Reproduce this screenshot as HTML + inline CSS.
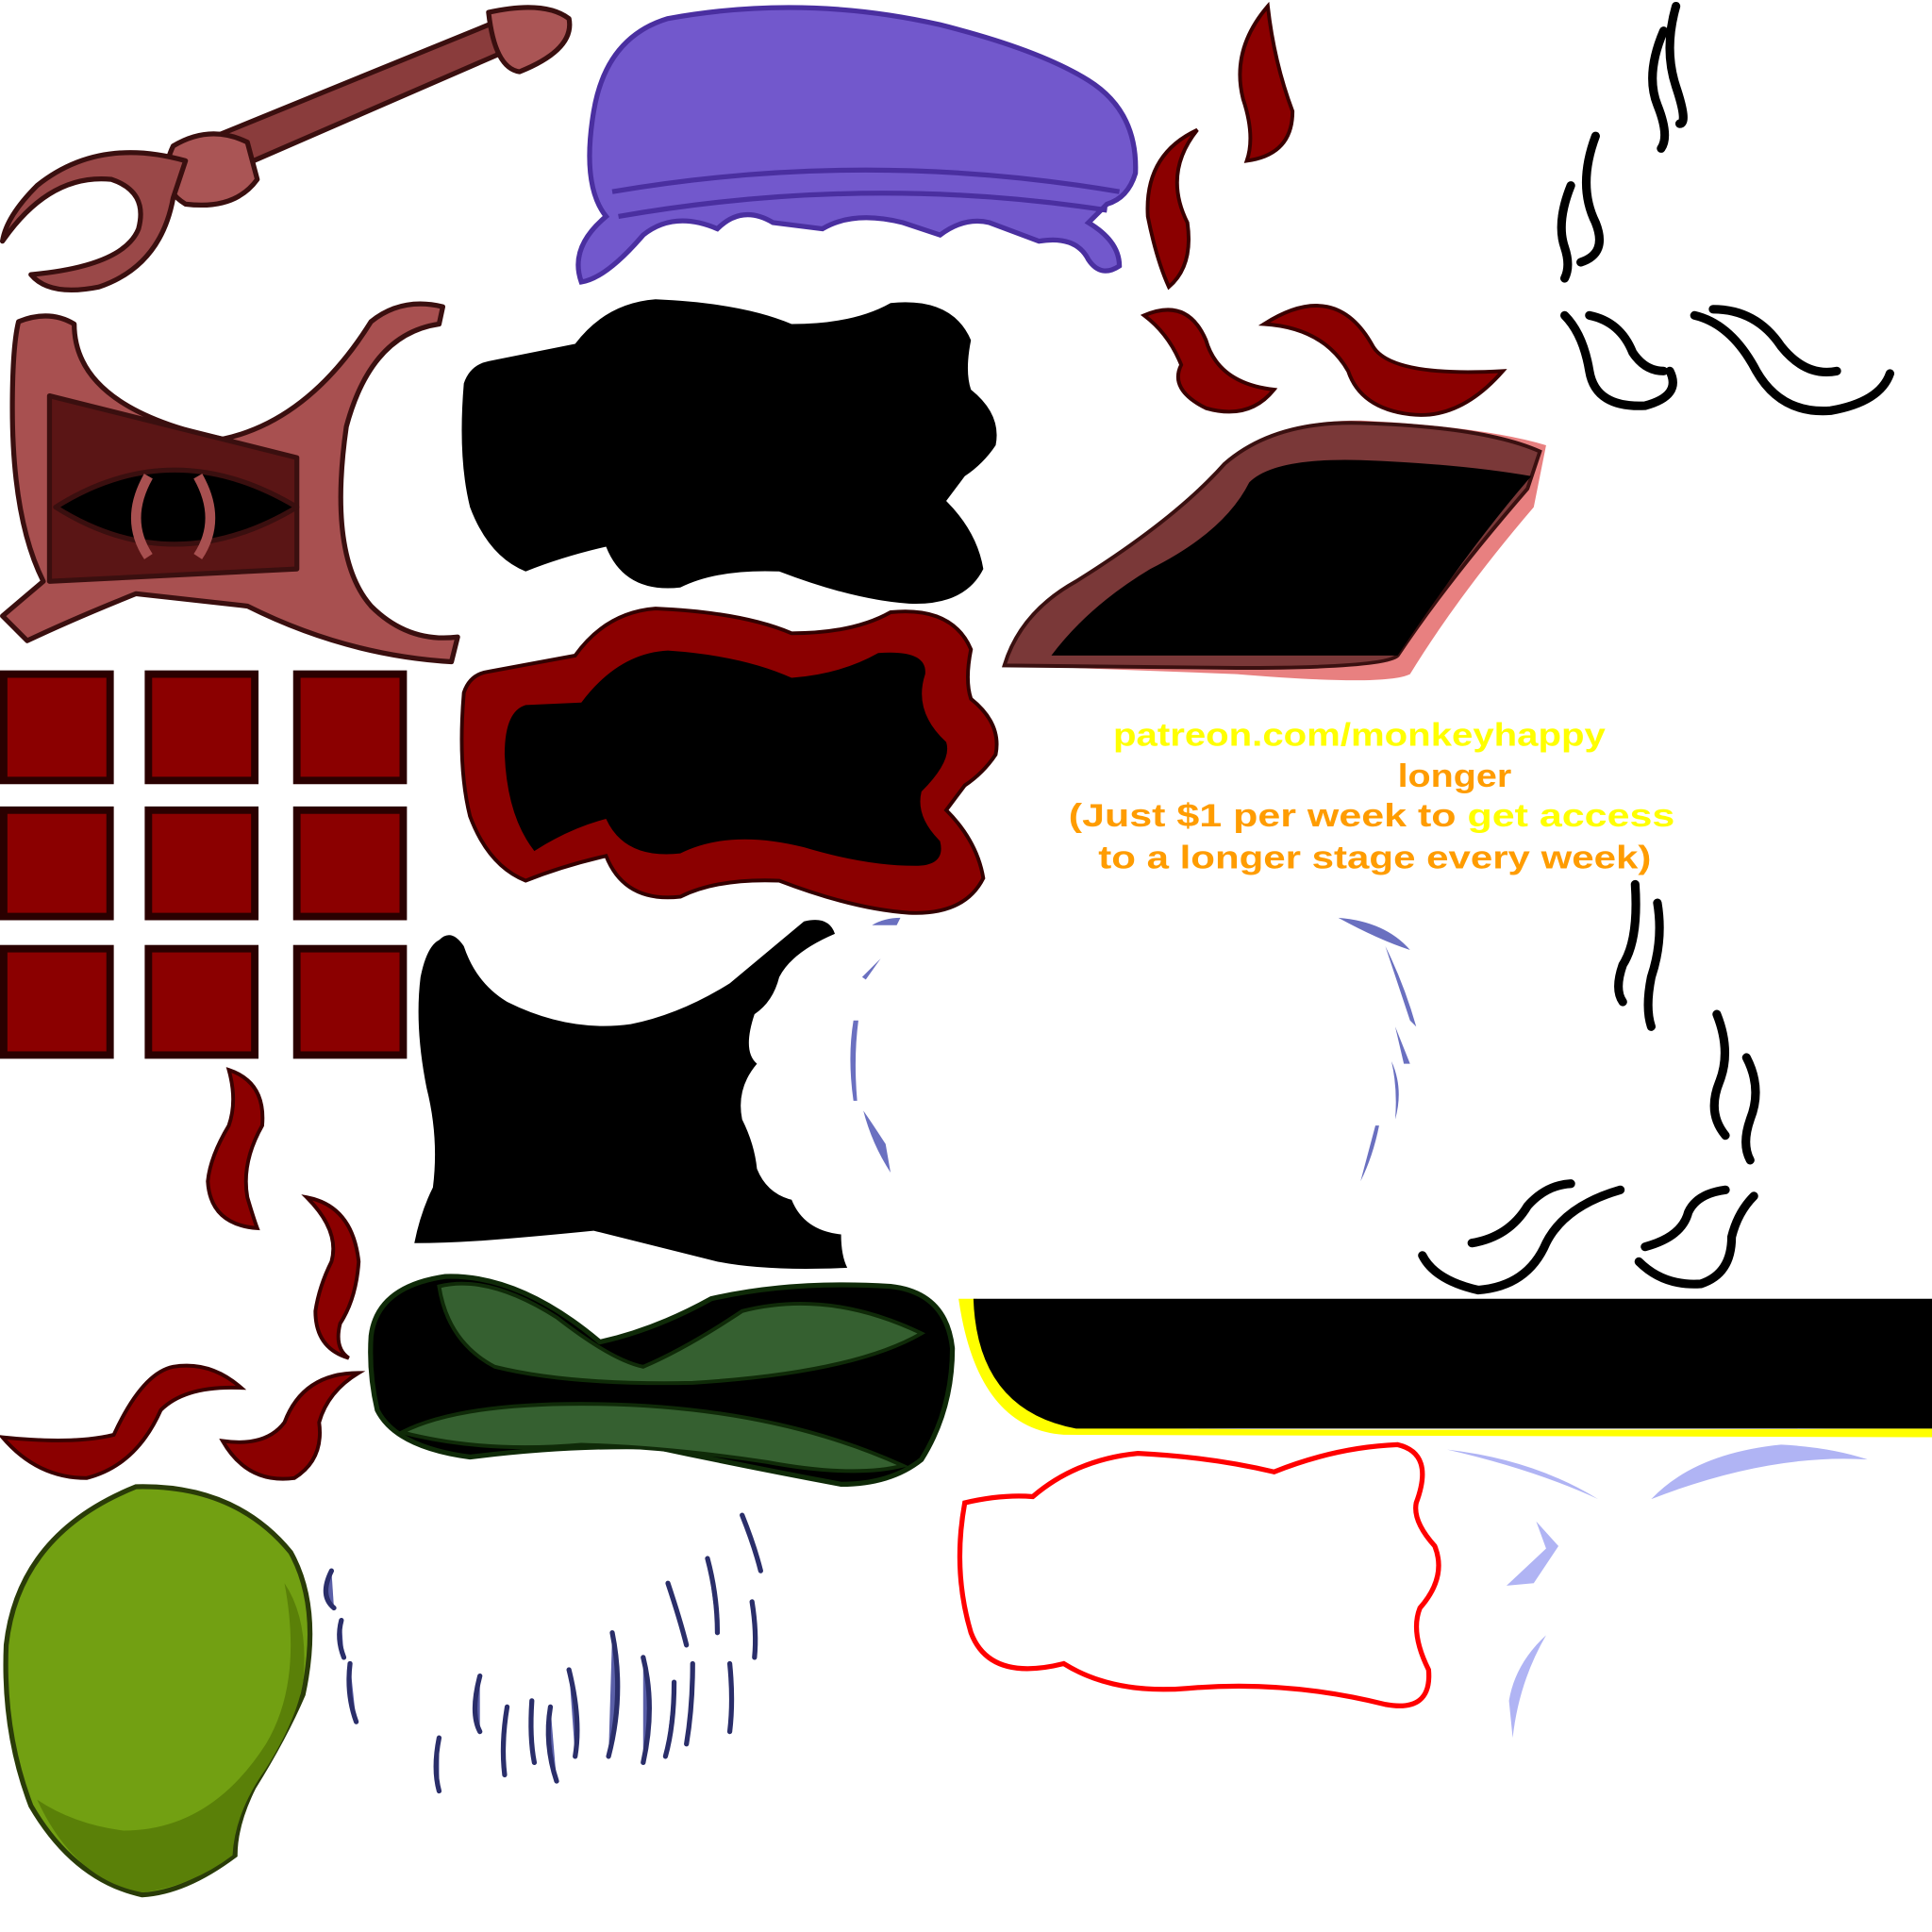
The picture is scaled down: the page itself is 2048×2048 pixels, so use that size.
<!DOCTYPE html>
<html><head><meta charset="utf-8"><style>html,body{margin:0;padding:0;background:#fff;overflow:hidden}svg{display:block}</style></head><body>
<svg width="2048" height="2048" viewBox="0 0 1562 1562" xmlns="http://www.w3.org/2000/svg">
<!-- wrench/tool top-left -->
<g stroke="#3a0f0f" stroke-width="4" stroke-linejoin="round">
<path d="M150 120 L400 18 L412 40 L205 130 Z" fill="#8a3c3c"/>
<path d="M395 10 Q440 0 460 15 Q465 40 420 58 Q400 55 395 10Z" fill="#a55"/>
<path d="M140 118 Q170 100 200 115 L208 145 Q190 170 150 165 Q125 150 140 118Z" fill="#a55"/>
<path d="M150 130 Q80 110 30 150 Q5 175 2 195 Q40 140 90 145 Q120 155 112 185 Q100 215 25 222 Q40 240 80 232 Q130 215 140 160Z" fill="#9a4848"/>
</g>
<!-- purple hat -->
<path d="M480 90 Q490 30 540 15 Q650 -5 760 20 Q840 40 880 65 Q920 90 918 140 Q912 160 895 165 L880 180 Q905 195 905 215 Q890 225 880 210 Q870 190 840 195 L800 180 Q780 175 760 190 L730 180 Q690 170 665 185 L625 180 Q600 165 580 185 Q545 170 520 190 Q490 225 470 228 Q460 200 490 175 Q470 150 480 90Z" fill="#7258cc" stroke="#4a2fa0" stroke-width="4"/>
<path d="M495 155 Q700 120 905 155 M500 175 Q700 140 895 170" fill="none" stroke="#4a2fa0" stroke-width="4"/>
<!-- red flames top -->
<g fill="#8b0000" stroke="#3a0000" stroke-width="3">
<path d="M1025 5 Q995 40 1005 80 Q1015 110 1008 130 Q1045 125 1045 90 Q1030 50 1025 5Z"/>
<path d="M968 105 Q925 125 928 175 Q935 210 945 232 Q965 215 960 180 Q940 140 968 105Z"/>
<path d="M925 255 Q960 240 975 275 Q985 310 1030 315 Q1010 340 975 330 Q945 315 955 295 Q945 270 925 255Z"/>
<path d="M1022 262 Q1080 225 1110 280 Q1125 305 1215 300 Q1180 340 1140 335 Q1100 330 1090 300 Q1070 265 1022 262Z"/>
</g>
<!-- black squiggles top right -->
<g fill="none" stroke="#000" stroke-width="7" stroke-linecap="round">
<path d="M1355 5 Q1345 40 1355 70 Q1365 100 1358 100 M1345 25 Q1330 60 1340 85 Q1350 110 1343 120"/>
<path d="M1290 110 Q1275 150 1290 180 Q1300 205 1278 212 M1270 150 Q1258 180 1265 200 Q1270 215 1265 225"/>
<path d="M1265 255 Q1280 270 1285 300 Q1290 330 1330 328 Q1360 320 1350 300 M1285 255 Q1310 260 1320 285 Q1330 300 1345 300"/>
<path d="M1370 255 Q1400 262 1420 300 Q1440 335 1480 332 Q1520 325 1528 302 M1385 250 Q1420 250 1440 280 Q1460 305 1485 300"/>
</g>
<!-- claw frame -->
<g stroke="#3a0f0f" stroke-width="4" stroke-linejoin="round">
<path d="M15 260 Q40 250 60 262 Q60 330 180 355 Q250 340 300 260 Q325 240 358 248 L355 262 Q300 270 280 345 Q265 450 300 490 Q330 520 370 515 L365 535 Q280 530 200 490 L110 480 Q60 500 22 518 L2 498 L35 470 Q10 420 10 330 Q10 280 15 260Z" fill="#a85050"/>
<path d="M40 320 L240 370 L240 460 L40 470Z" fill="#5a1515"/>
<path d="M45 410 Q140 350 240 410 Q140 470 45 410Z" fill="#000"/>
<path d="M120 385 Q100 420 120 450 M160 385 Q180 420 160 450" stroke="#a85050" stroke-width="8" fill="none"/>
</g>
<!-- red squares grid -->
<g fill="#8b0000" stroke="#2a0000" stroke-width="6">
<rect x="3" y="545" width="86" height="86"/><rect x="120" y="545" width="86" height="86"/><rect x="240" y="545" width="86" height="86"/>
<rect x="3" y="655" width="86" height="86"/><rect x="120" y="655" width="86" height="86"/><rect x="240" y="655" width="86" height="86"/>
<rect x="3" y="767" width="86" height="86"/><rect x="120" y="767" width="86" height="86"/><rect x="240" y="767" width="86" height="86"/>
</g>
<!-- black blob 1 -->
<path d="M395 292 L465 278 Q490 245 530 242 Q600 245 640 262 Q690 262 720 245 Q770 240 785 275 Q780 300 785 315 Q810 335 805 360 Q795 375 780 385 L765 405 Q790 430 795 460 Q780 490 735 488 Q690 485 630 462 Q580 460 550 475 Q505 480 490 442 Q455 450 425 462 Q395 450 380 410 Q370 370 375 310 Q380 295 395 292Z" fill="#000"/>
<!-- blob 2 red outline -->
<path d="M395 543 L465 530 Q490 495 530 492 Q600 495 640 512 Q690 512 720 495 Q770 490 785 525 Q780 550 785 565 Q810 585 805 610 Q795 625 780 635 L765 655 Q790 680 795 710 Q780 740 735 738 Q690 735 630 712 Q580 710 550 725 Q505 730 490 692 Q455 700 425 712 Q395 700 380 660 Q370 620 375 560 Q380 545 395 543Z" fill="#8b0000" stroke="#300" stroke-width="3"/>
<path d="M425 570 L470 568 Q500 528 540 526 Q600 530 640 548 Q680 545 710 528 Q750 525 748 545 Q738 575 765 600 Q770 615 745 640 Q740 660 760 680 Q765 700 740 700 Q700 700 650 685 Q590 670 550 690 Q505 695 490 662 Q460 670 432 688 Q410 660 408 610 Q408 575 425 570Z" fill="#000"/>
<!-- brown bread/platform -->
<path d="M815 538 Q830 490 880 470 Q950 420 995 370 Q1030 340 1100 340 Q1200 345 1250 360 L1240 410 Q1180 480 1140 545 Q1120 555 1000 545 Z" fill="#e88080"/>
<path d="M812 538 Q825 495 870 470 Q950 420 990 375 Q1030 340 1100 342 Q1200 345 1245 365 L1235 395 Q1170 470 1130 530 Q1120 540 1000 540 Z" fill="#7a3838" stroke="#3a1010" stroke-width="3"/>
<path d="M850 530 Q880 490 930 460 Q990 430 1010 390 Q1030 370 1100 372 Q1180 375 1238 385 Q1190 440 1130 530 Z" fill="#000"/>
<!-- text -->
<g font-family="Liberation Sans, sans-serif" font-weight="bold" font-size="26">
<text x="900" y="603" fill="#ffff00" textLength="398" lengthAdjust="spacingAndGlyphs">patreon.com/monkeyhappy</text>
<text x="1130" y="636" fill="#ff9c00" textLength="92" lengthAdjust="spacingAndGlyphs">longer</text>
<text x="864" y="668" fill="#ff9c00" textLength="490" lengthAdjust="spacingAndGlyphs">(Just $1 per week to <tspan fill="#ffff00">get access</tspan></text>
<text x="888" y="702" fill="#ff9c00" textLength="447" lengthAdjust="spacingAndGlyphs">to a longer stage every week)</text>
</g>
<!-- black tattered cloth -->
<path d="M355 760 Q365 750 375 765 Q385 795 410 810 Q460 835 510 828 Q550 820 590 795 Q620 770 650 745 Q670 740 675 755 Q640 770 630 790 Q625 810 610 820 Q600 850 612 860 Q595 880 600 905 Q610 925 612 945 Q620 965 640 970 Q650 995 680 998 Q680 1015 685 1025 Q620 1028 580 1020 Q540 1010 480 995 Q430 1000 390 1003 Q360 1005 335 1005 Q340 980 350 960 Q355 920 345 880 Q335 830 340 790 Q345 765 355 760Z" fill="#000"/>
<!-- blue dashed arcs -->
<g fill="#6a70c0">
<path d="M705 748 Q715 742 728 742 L725 748Z"/><path d="M712 775 L697 790 L700 792 Z"/>
<path d="M690 825 Q685 855 690 890 L693 890 Q690 855 694 825Z"/>
<path d="M698 898 Q705 925 720 948 L716 925 Q705 908 698 898Z"/>
<path d="M1082 742 Q1120 745 1140 768 Q1115 760 1082 742Z"/>
<path d="M1120 765 Q1135 795 1145 830 L1140 825 Q1130 795 1120 765Z"/>
<path d="M1128 830 L1140 860 L1135 860Z"/><path d="M1125 858 Q1135 880 1128 905 Q1130 880 1125 858Z"/>
<path d="M1112 910 L1100 955 Q1110 935 1115 910Z"/>
</g>
<!-- black squiggles right -->
<g fill="none" stroke="#000" stroke-width="7" stroke-linecap="round">
<path d="M1322 715 Q1325 760 1312 780 Q1305 800 1312 810 M1340 730 Q1345 760 1335 790 Q1330 815 1335 830"/>
<path d="M1388 820 Q1400 850 1390 875 Q1380 900 1395 918 M1412 855 Q1425 880 1415 905 Q1408 925 1415 938"/>
<path d="M1150 1015 Q1160 1035 1195 1043 Q1235 1040 1250 1005 Q1265 975 1310 962 M1190 1005 Q1220 1000 1235 975 Q1250 958 1270 957"/>
<path d="M1325 1020 Q1345 1040 1375 1038 Q1400 1030 1400 1000 Q1405 980 1418 967 M1330 1008 Q1360 1000 1365 980 Q1372 965 1395 962"/>
</g>
<!-- red flames lower left -->
<g fill="#8b0000" stroke="#3a0000" stroke-width="3">
<path d="M185 865 Q215 875 212 910 Q195 940 200 968 Q205 985 208 993 Q170 990 168 955 Q170 935 185 910 Q192 890 185 865Z"/>
<path d="M248 968 Q285 975 290 1020 Q288 1050 275 1070 Q270 1090 282 1098 Q255 1090 255 1060 Q258 1040 268 1020 Q275 995 248 968Z"/>
<path d="M2 1162 Q60 1168 92 1160 Q115 1110 140 1105 Q170 1100 195 1122 Q150 1120 130 1140 Q110 1185 70 1195 Q30 1195 2 1162Z"/>
<path d="M180 1165 Q215 1170 230 1150 Q245 1110 290 1110 Q265 1125 258 1150 Q262 1180 238 1195 Q200 1200 180 1165Z"/>
</g>
<!-- green pillow -->
<path d="M300 1080 Q305 1040 360 1032 Q420 1030 485 1085 Q530 1075 575 1050 Q640 1035 720 1040 Q765 1045 770 1090 Q770 1140 745 1180 Q720 1200 680 1200 Q600 1185 530 1170 Q460 1168 380 1178 Q320 1170 305 1140 Q298 1110 300 1080Z" fill="#000" stroke="#0f2a08" stroke-width="4"/>
<path d="M355 1040 Q395 1030 450 1065 Q495 1100 520 1105 Q555 1090 600 1060 Q670 1042 745 1078 Q690 1110 560 1118 Q460 1120 400 1105 Q362 1085 355 1040Z" fill="#356030" stroke="#0f2a08" stroke-width="3"/>
<path d="M325 1158 Q370 1135 470 1135 Q620 1135 730 1185 Q690 1195 620 1182 Q540 1170 470 1168 Q390 1175 325 1158Z" fill="#356030" stroke="#0f2a08" stroke-width="3"/>
<!-- black banner with yellow edge -->
<path d="M775 1050 L790 1050 Q790 1130 860 1152 Q880 1158 1562 1155 L1562 1162 L860 1160 Q790 1155 775 1050Z" fill="#ffff00"/>
<path d="M787 1050 L1562 1050 L1562 1155 L870 1155 Q790 1140 787 1050Z" fill="#000"/>
<!-- red outline bubble -->
<path d="M780 1215 Q810 1208 835 1210 Q870 1180 920 1175 Q980 1178 1030 1190 Q1080 1170 1130 1168 Q1160 1175 1145 1215 Q1142 1230 1160 1250 Q1170 1275 1148 1300 Q1140 1320 1155 1350 Q1158 1385 1120 1378 Q1040 1358 960 1365 Q900 1370 860 1345 Q800 1360 785 1320 Q770 1270 780 1215Z" fill="none" stroke="#ff0000" stroke-width="4"/>
<!-- light blue marks -->
<g fill="#b0b4f4">
<path d="M1170 1172 Q1240 1180 1292 1212 Q1240 1188 1170 1172Z"/>
<path d="M1335 1212 Q1370 1175 1440 1168 Q1480 1170 1510 1180 Q1430 1175 1335 1212Z"/>
<path d="M1242 1230 L1260 1250 L1240 1280 L1218 1282 L1250 1252Z"/>
<path d="M1250 1322 Q1225 1345 1220 1375 Q1222 1395 1223 1405 Q1228 1360 1250 1322Z"/>
</g>
<!-- green head -->
<path d="M110 1202 Q190 1200 235 1255 Q260 1300 245 1370 Q230 1405 205 1445 Q190 1475 190 1500 Q150 1530 115 1532 Q60 1520 25 1460 Q2 1400 5 1330 Q15 1240 110 1202Z" fill="#72a012" stroke="#2a3c08" stroke-width="4"/>
<path d="M230 1280 Q245 1360 215 1410 Q170 1480 100 1480 Q60 1475 30 1455 Q60 1520 115 1530 Q155 1525 188 1500 Q190 1465 215 1430 Q240 1390 245 1360 Q250 1310 230 1280Z" fill="#5a8008"/>
<!-- dark blue strokes -->
<g stroke="#2a2e6a" stroke-width="4" stroke-linecap="round" fill="#5a5fa8">
<path d="M268 1270 Q258 1290 270 1300"/><path d="M276 1310 Q272 1325 278 1340"/><path d="M283 1345 Q280 1370 288 1392"/>
<path d="M355 1405 Q350 1430 355 1448"/><path d="M388 1355 Q380 1385 388 1400"/><path d="M410 1380 Q405 1410 408 1435"/>
<path d="M430 1375 Q428 1405 432 1425"/><path d="M445 1380 Q440 1410 450 1440"/><path d="M460 1350 Q470 1390 465 1420"/>
<path d="M495 1320 Q505 1370 492 1420"/><path d="M520 1340 Q530 1380 520 1425"/><path d="M540 1280 Q550 1310 555 1330"/>
<path d="M545 1360 Q545 1395 538 1420"/><path d="M572 1260 Q580 1290 580 1320"/><path d="M590 1345 Q593 1375 590 1400"/>
<path d="M600 1225 Q610 1250 615 1270"/><path d="M608 1295 Q612 1320 610 1340"/><path d="M560 1345 Q560 1380 555 1410"/>
</g>
</svg>
</body></html>
